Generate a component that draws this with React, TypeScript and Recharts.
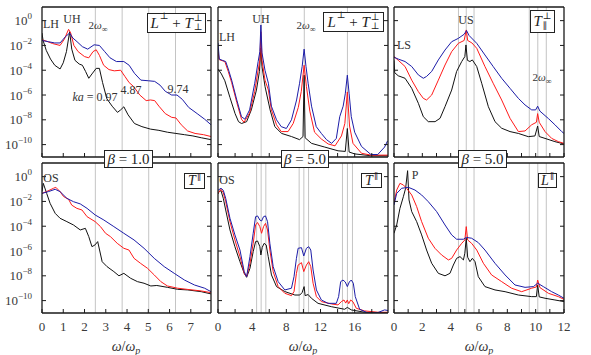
import React from "react";
import { LineChart, Line, XAxis, YAxis, ReferenceLine } from "recharts";

type Pt = [number, number]; // [omega / omega_p, log10 of the spectrum]

const serif = "Liberation Serif, DejaVu Serif, serif";

const yTicks = [-10, -8, -6, -4, -2, 0];
const ticksA = [0, 1, 2, 3, 4, 5, 6, 7];
const ticksB = [0, 2, 4, 6, 8, 10, 12, 14, 16, 18];
const ticksC = [0, 1, 2, 3, 4, 5, 6, 7, 8, 9, 10, 11, 12];

const marksA = [2.51, 3.77, 5.02, 6.28];
const marksTM = [5.05, 10.1, 15.15];
const marksBM = [4.52, 5.05, 5.6, 9.5, 10.05, 10.6, 14.57, 15.15, 15.74];
const marksC = [4.55, 5.1, 5.65, 9.55, 10.15, 10.75];

// top left: L perp + T perp, beta = 1
const tlBlack: Pt[] = [[0,-1.0],[0.05,-1.6],[0.2,-2.4],[0.4,-3.1],[0.6,-3.6],[0.85,-3.9],[1.0,-3.4],[1.15,-2.5],[1.3,-0.9],[1.4,-2.3],[1.55,-3.2],[1.75,-3.5],[1.9,-3.6],[2.05,-4.1],[2.2,-4.65],[2.35,-4.3],[2.55,-3.85],[2.7,-3.85],[2.85,-5.0],[3.05,-6.3],[3.3,-6.9],[3.55,-7.4],[3.7,-7.2],[3.85,-6.95],[4.05,-7.6],[4.35,-8.3],[4.7,-8.55],[5.1,-8.75],[5.5,-8.85],[5.9,-9.0],[6.3,-9.1],[6.7,-9.2],[7.1,-9.3],[7.5,-9.45],[7.95,-9.6]];
const tlRed: Pt[] = [[0,-1.55],[0.2,-1.65],[0.5,-1.85],[0.85,-2.0],[1.05,-1.5],[1.25,-0.7],[1.35,-1.0],[1.5,-2.0],[1.7,-2.5],[2.0,-2.9],[2.2,-3.0],[2.4,-2.5],[2.55,-2.35],[2.7,-2.8],[2.9,-3.6],[3.15,-3.95],[3.4,-4.05],[3.7,-4.0],[3.9,-4.5],[4.1,-5.0],[4.3,-5.3],[4.6,-6.0],[4.9,-6.45],[5.1,-6.4],[5.3,-6.45],[5.5,-6.9],[5.8,-7.5],[6.1,-7.8],[6.3,-7.85],[6.55,-8.4],[6.85,-8.9],[7.2,-9.1],[7.6,-9.2],[7.95,-9.35]];
const tlBlue: Pt[] = [[0,-1.6],[0.3,-1.7],[0.6,-1.8],[0.85,-1.8],[1.1,-1.3],[1.3,-1.0],[1.45,-1.4],[1.65,-1.7],[1.9,-2.1],[2.15,-2.3],[2.45,-1.95],[2.7,-2.0],[2.95,-2.5],[3.2,-3.0],[3.5,-3.3],[3.85,-3.3],[4.1,-3.6],[4.35,-4.25],[4.65,-4.8],[5.0,-4.85],[5.3,-4.9],[5.55,-5.2],[5.8,-5.7],[6.1,-6.0],[6.35,-6.0],[6.6,-6.35],[6.9,-7.0],[7.3,-7.5],[7.65,-7.95],[7.95,-8.4]];

// top middle: L perp + T perp, beta = 5
const tmBlack: Pt[] = [[0,-3.9],[0.4,-4.3],[0.8,-4.85],[1.4,-6.2],[2.0,-7.5],[2.4,-8.15],[2.75,-8.3],[3.35,-8.15],[3.9,-7.2],[4.5,-5.6],[4.85,-4.1],[5.02,-2.2],[5.15,-3.7],[5.5,-5.3],[6.1,-7.2],[6.65,-8.55],[7.45,-9.1],[8.6,-9.35],[9.55,-9.6],[9.95,-9.35],[10.08,-4.4],[10.2,-9.45],[10.95,-9.9],[12.5,-10.2],[14.05,-10.5],[14.9,-10.55],[15.14,-8.7],[15.35,-10.6],[16.0,-10.75],[17.9,-10.9],[19.9,-10.9]];
const tmRed: Pt[] = [[0,-2.5],[0.15,-3.15],[0.8,-3.3],[1.2,-4.1],[1.6,-5.0],[2.2,-6.6],[2.75,-7.95],[3.05,-8.2],[3.7,-7.45],[4.3,-5.7],[4.7,-4.0],[4.9,-3.2],[5.02,-0.9],[5.15,-3.2],[5.5,-4.8],[5.9,-5.6],[6.25,-7.2],[6.85,-8.4],[7.4,-8.95],[8.2,-8.95],[8.8,-8.3],[9.4,-7.0],[9.75,-5.7],[10.08,-3.6],[10.35,-5.3],[10.75,-7.3],[11.3,-9.0],[12.1,-9.55],[12.9,-9.95],[13.7,-10.1],[14.45,-9.3],[14.85,-8.3],[15.14,-5.75],[15.4,-8.5],[15.8,-9.9],[16.8,-10.7],[17.9,-10.85],[19.9,-10.85]];
const tmBlue: Pt[] = [[0,-1.8],[0.15,-3.1],[0.5,-3.2],[0.9,-3.3],[1.2,-3.9],[1.6,-4.8],[2.2,-6.4],[2.75,-7.75],[3.15,-7.95],[3.7,-7.2],[4.3,-5.05],[4.7,-3.3],[4.9,-2.5],[5.02,-0.35],[5.15,-2.6],[5.5,-4.0],[5.9,-5.05],[6.25,-6.9],[6.85,-8.0],[7.4,-8.55],[8.0,-8.7],[8.6,-8.0],[9.2,-6.4],[9.55,-5.05],[9.85,-3.7],[10.08,-2.3],[10.3,-3.7],[10.55,-5.05],[10.95,-6.9],[11.5,-8.55],[12.1,-9.1],[12.7,-9.6],[13.3,-9.9],[13.85,-9.5],[14.25,-7.75],[14.65,-6.9],[14.9,-5.9],[15.14,-4.4],[15.35,-5.9],[15.6,-7.75],[16.0,-9.0],[16.8,-10.15],[17.9,-10.8],[18.7,-10.8],[19.5,-10.2],[19.85,-9.7]];

// top right: T par perp, beta = 5
const trBlack: Pt[] = [[0,-3.2],[0.05,-4.2],[0.3,-4.45],[0.78,-4.65],[1.25,-5.46],[1.72,-6.67],[2.07,-7.75],[2.42,-8.15],[2.9,-8.15],[3.25,-7.88],[3.6,-6.94],[4.07,-5.6],[4.42,-4.1],[4.78,-3.3],[5.0,-2.9],[5.08,-1.96],[5.18,-3.2],[5.36,-3.3],[5.53,-3.17],[5.84,-3.7],[6.19,-5.05],[6.66,-6.94],[7.13,-8.15],[7.6,-8.68],[8.19,-8.95],[8.78,-9.1],[9.48,-9.36],[9.95,-9.3],[10.14,-8.5],[10.25,-9.35],[10.66,-9.5],[11.36,-9.76],[12,-9.95]];
const trRed: Pt[] = [[0,-2.9],[0.3,-3.2],[0.78,-3.7],[1.25,-4.8],[1.72,-5.73],[2.07,-6.27],[2.3,-6.4],[2.66,-6.0],[3.13,-4.8],[3.6,-3.58],[4.07,-2.5],[4.54,-1.83],[4.95,-1.6],[5.1,-0.75],[5.2,-1.6],[5.5,-1.8],[5.84,-2.23],[6.42,-3.7],[7.0,-5.05],[7.6,-6.4],[8.19,-7.88],[8.78,-8.95],[9.25,-8.9],[9.72,-8.4],[10.05,-8.2],[10.14,-7.5],[10.25,-8.2],[10.66,-8.95],[11.13,-9.5],[11.6,-9.76],[12,-9.9]];
const trBlue: Pt[] = [[0,-2.95],[0.3,-3.1],[0.78,-3.3],[1.25,-3.7],[1.72,-4.38],[2.07,-4.65],[2.3,-4.5],[2.66,-4.1],[3.13,-3.17],[3.6,-2.37],[4.07,-1.7],[4.54,-1.43],[4.95,-1.1],[5.12,-0.8],[5.3,-1.2],[5.84,-1.83],[6.42,-2.77],[7.0,-3.7],[7.6,-4.65],[8.19,-5.46],[8.78,-6.27],[9.25,-6.8],[9.72,-7.2],[10.0,-7.2],[10.14,-6.9],[10.3,-7.3],[10.9,-7.9],[11.36,-8.4],[11.84,-8.95],[12,-9.1]];

// bottom left: T par, beta = 1
const blBlack: Pt[] = [[0,-1.2],[0.06,-0.54],[0.22,-1.35],[0.38,-2.15],[0.62,-2.96],[0.85,-3.36],[1.17,-3.63],[1.48,-3.9],[1.8,-4.3],[2.04,-4.17],[2.2,-4.84],[2.35,-5.65],[2.5,-5.5],[2.62,-5.24],[2.83,-6.86],[3.06,-7.26],[3.38,-7.66],[3.62,-8.0],[3.85,-7.8],[4.17,-8.2],[4.49,-8.47],[4.8,-8.6],[5.12,-8.82],[5.4,-8.78],[5.9,-8.93],[6.38,-9.09],[6.86,-9.14],[7.49,-9.28],[7.95,-9.46]];
const blRed: Pt[] = [[0,-1.35],[0.22,-1.2],[0.54,-0.94],[0.65,-0.86],[0.85,-1.21],[1.01,-1.6],[1.25,-1.83],[1.4,-2.3],[1.64,-2.56],[1.88,-2.69],[2.12,-3.23],[2.5,-3.63],[2.75,-4.03],[2.99,-4.57],[3.22,-4.84],[3.54,-5.38],[3.85,-5.78],[4.09,-5.92],[4.33,-6.59],[4.64,-7.0],[4.96,-7.39],[5.28,-7.93],[5.59,-8.47],[5.9,-8.82],[6.38,-9.0],[6.86,-9.1],[7.49,-9.22],[7.95,-9.36]];
const blBlue: Pt[] = [[0,-1.35],[0.3,-1.21],[0.62,-1.02],[0.85,-1.21],[1.17,-1.75],[1.48,-2.02],[1.8,-2.2],[2.12,-2.56],[2.5,-3.09],[2.91,-3.5],[3.38,-4.03],[3.85,-4.57],[4.33,-5.11],[4.8,-5.78],[5.28,-6.59],[5.75,-7.26],[6.22,-7.8],[6.7,-8.34],[7.17,-8.74],[7.65,-9.0],[7.95,-9.28]];

// bottom middle: T par, beta = 5
const bmBlack: Pt[] = [[0,-1.4],[0.1,-1.21],[0.35,-1.13],[0.62,-1.75],[0.9,-2.69],[1.4,-4.3],[1.98,-5.65],[2.57,-6.86],[3.07,-7.8],[3.35,-8.12],[3.74,-7.4],[4.12,-6.05],[4.4,-5.24],[4.63,-5.19],[4.9,-5.65],[5.02,-6.32],[5.18,-5.7],[5.4,-5.38],[5.64,-5.51],[5.88,-6.45],[6.26,-7.93],[6.85,-8.87],[7.82,-9.27],[9.0,-9.55],[9.57,-9.55],[9.84,-9.36],[10.08,-8.87],[10.2,-9.6],[10.55,-9.51],[10.93,-9.81],[11.71,-10.22],[13.27,-10.49],[14.82,-10.7],[15.14,-10.55],[15.6,-10.75],[17.16,-10.94],[19.9,-10.97]];
const bmRed: Pt[] = [[0,-1.35],[0.35,-1.02],[0.62,-1.3],[0.9,-2.02],[1.4,-3.63],[1.98,-5.11],[2.57,-6.45],[3.07,-7.8],[3.35,-8.07],[3.74,-7.0],[4.12,-5.38],[4.4,-3.9],[4.63,-3.7],[4.9,-4.03],[5.1,-4.57],[5.33,-4.03],[5.56,-3.77],[5.8,-4.3],[6.07,-5.92],[6.46,-7.66],[7.04,-8.87],[7.82,-9.41],[8.6,-9.6],[8.9,-9.27],[9.18,-7.8],[9.38,-7.13],[9.77,-6.94],[10.04,-7.66],[10.35,-7.13],[10.62,-6.86],[10.86,-7.26],[11.13,-8.6],[11.52,-9.68],[12.1,-10.08],[13.27,-10.27],[14.05,-10.35],[14.44,-10.08],[14.75,-9.95],[14.95,-10.2],[15.14,-9.95],[15.3,-10.25],[15.53,-9.95],[15.8,-10.1],[16.19,-10.62],[17.16,-10.83],[18.7,-10.94],[19.9,-10.94]];
const bmBlue: Pt[] = [[0,-1.1],[0.35,-0.94],[0.62,-1.1],[0.9,-1.75],[1.4,-3.36],[1.98,-4.7],[2.57,-5.92],[3.07,-7.66],[3.35,-8.07],[3.74,-6.45],[4.12,-4.57],[4.4,-3.23],[4.63,-3.17],[4.9,-3.5],[5.1,-3.58],[5.33,-3.23],[5.56,-3.17],[5.8,-3.63],[6.07,-5.38],[6.46,-7.26],[7.04,-8.47],[7.82,-9.14],[8.6,-9.0],[8.9,-8.07],[9.18,-6.59],[9.38,-5.78],[9.77,-5.73],[10.04,-6.4],[10.35,-5.78],[10.62,-5.65],[10.86,-5.92],[11.13,-7.53],[11.52,-9.14],[12.1,-9.95],[12.88,-10.22],[13.85,-10.22],[14.12,-9.68],[14.36,-8.47],[14.63,-8.34],[14.9,-8.5],[15.14,-8.87],[15.37,-8.5],[15.6,-8.34],[15.84,-8.6],[16.07,-9.68],[16.58,-10.7],[17.55,-11.0],[18.7,-10.97],[19.5,-10.75],[19.9,-10.8]];

// bottom right: L par, beta = 5
const brBlack: Pt[] = [[0,-4.57],[0.19,-3.9],[0.42,-2.56],[0.66,-1.62],[0.82,-0.94],[0.96,0.48],[1.06,-1.88],[1.25,-2.82],[1.6,-3.63],[1.95,-4.7],[2.3,-5.92],[2.66,-6.99],[3.13,-7.8],[3.6,-8.0],[3.95,-7.8],[4.19,-7.13],[4.42,-6.59],[4.66,-6.45],[4.9,-6.72],[5.0,-6.18],[5.1,-4.97],[5.2,-6.5],[5.36,-6.86],[5.53,-6.59],[5.72,-6.86],[5.95,-8.07],[6.42,-8.87],[7.13,-9.14],[7.84,-9.28],[8.78,-9.55],[9.72,-9.68],[10.05,-9.68],[10.14,-8.74],[10.25,-9.7],[10.66,-9.81],[11.36,-9.95],[12,-10.08]];
const brRed: Pt[] = [[0,-2.15],[0.19,-1.08],[0.42,-0.54],[0.66,-0.67],[0.89,-0.94],[1.25,-1.48],[1.6,-2.42],[1.95,-3.63],[2.42,-4.97],[2.89,-5.78],[3.36,-6.32],[3.84,-6.72],[4.07,-6.59],[4.42,-5.92],[4.78,-5.38],[5.0,-5.11],[5.1,-4.03],[5.2,-5.11],[5.48,-5.38],[5.84,-5.92],[6.31,-6.99],[6.89,-7.93],[7.6,-8.47],[8.3,-9.0],[9.01,-9.28],[9.72,-9.0],[10.05,-8.9],[10.14,-8.34],[10.3,-8.95],[10.9,-9.41],[11.6,-9.68],[12,-9.9]];
const brBlue: Pt[] = [[0,-2.29],[0.19,-1.35],[0.54,-0.94],[1.01,-0.86],[1.48,-1.08],[1.95,-1.48],[2.42,-2.02],[3.01,-2.82],[3.6,-3.9],[4.07,-4.7],[4.42,-5.05],[4.9,-5.05],[5.1,-4.9],[5.48,-4.97],[5.95,-5.32],[6.42,-5.92],[7.13,-6.99],[7.84,-7.93],[8.54,-8.74],[9.25,-8.93],[9.84,-8.87],[10.14,-8.6],[10.54,-8.87],[11.13,-9.28],[11.6,-9.55],[12,-9.81]];

const rows = (pts: Pt[]) => pts.map(([w, e]) => ({ w, e }));

const frame = { stroke: "#1a1a1a", strokeWidth: 1.3 };
const tickLn = { stroke: "#1a1a1a", strokeWidth: 1 };

function PowTick(props: any) {
  const { x, y, payload } = props;
  const v = payload.value;
  return (
    <text x={x} y={y + 4.5} textAnchor="end" fill="#3a3a3a" fontSize={13} style={{ fontFamily: serif }}>
      10
      <tspan dy={-6} fontSize={9}>{v === 0 ? "0" : "\u2212" + Math.abs(v)}</tspan>
    </text>
  );
}

function XTick(props: any) {
  const { x, y, payload, show, step } = props;
  const v = payload.value;
  if (!show || v % step !== 0) return <g />;
  return (
    <text x={x} y={y + 9} textAnchor="middle" fill="#3a3a3a" fontSize={13} style={{ fontFamily: serif }}>
      {v}
    </text>
  );
}

function NoTick() {
  return <g />;
}

interface PanelProps {
  x: number;
  y: number;
  w: number;
  xMax: number;
  xTicks: number[];
  labelStep: number;
  showX: boolean;
  showY: boolean;
  marks: number[];
  black: Pt[];
  red: Pt[];
  blue: Pt[];
}

function Panel({ x, y, w, xMax, xTicks, labelStep, showX, showY, marks, black, red, blue }: PanelProps) {
  const h = 150;
  return (
    <div style={{ position: "absolute", left: x - 46, top: y - 3 }}>
      <LineChart width={46 + w + 14} height={3 + h + 22} margin={{ top: 2, right: 13, left: 0, bottom: 0 }}>
        <XAxis
          xAxisId="b"
          type="number"
          dataKey="w"
          domain={[0, xMax]}
          ticks={xTicks}
          interval={0}
          allowDataOverflow
          height={22}
          tickSize={-4}
          tickMargin={13}
          axisLine={frame}
          tickLine={tickLn}
          tick={<XTick show={showX} step={labelStep} />}
        />
        <XAxis
          xAxisId="t"
          orientation="top"
          type="number"
          domain={[0, xMax]}
          ticks={xTicks}
          interval={0}
          allowDataOverflow
          height={1}
          tickSize={-4}
          axisLine={frame}
          tickLine={tickLn}
          tick={NoTick}
        />
        <YAxis
          yAxisId="l"
          type="number"
          domain={[-11, 1.1]}
          ticks={yTicks}
          interval={0}
          allowDataOverflow
          width={46}
          tickSize={-4}
          tickMargin={14}
          axisLine={frame}
          tickLine={tickLn}
          tick={showY ? PowTick : NoTick}
        />
        <YAxis
          yAxisId="r"
          orientation="right"
          type="number"
          domain={[-11, 1.1]}
          ticks={yTicks}
          interval={0}
          allowDataOverflow
          width={1}
          tickSize={-4}
          axisLine={frame}
          tickLine={tickLn}
          tick={NoTick}
        />
        {marks.map((m) => (
          <ReferenceLine key={m} xAxisId="b" yAxisId="l" x={m} stroke="#c4c4c4" strokeWidth={1} />
        ))}
        <Line xAxisId="b" yAxisId="l" data={rows(black)} dataKey="e" type="linear" stroke="#111" strokeWidth={1} dot={false} isAnimationActive={false} />
        <Line xAxisId="b" yAxisId="l" data={rows(red)} dataKey="e" type="linear" stroke="#ff1a1a" strokeWidth={1} dot={false} isAnimationActive={false} />
        <Line xAxisId="b" yAxisId="l" data={rows(blue)} dataKey="e" type="linear" stroke="#1c1ca8" strokeWidth={1} dot={false} isAnimationActive={false} />
      </LineChart>
    </div>
  );
}

function Note({ cx, cy, size = 12, children }: { cx: number; cy: number; size?: number; children: React.ReactNode }) {
  return (
    <div
      style={{
        position: "absolute",
        left: cx,
        top: cy,
        transform: "translate(-50%, -50%)",
        fontFamily: serif,
        fontSize: size,
        color: "#333",
        whiteSpace: "nowrap",
        lineHeight: 1,
      }}
    >
      {children}
    </div>
  );
}

function Box({ x, y, w, h, size = 15, children }: { x: number; y: number; w: number; h: number; size?: number; children: React.ReactNode }) {
  return (
    <div
      style={{
        position: "absolute",
        left: x,
        top: y,
        width: w,
        height: h,
        boxSizing: "border-box",
        border: "1px solid #222",
        background: "#fff",
        display: "flex",
        alignItems: "center",
        justifyContent: "center",
        fontFamily: serif,
        fontSize: size,
        color: "#222",
        whiteSpace: "nowrap",
        lineHeight: 1,
      }}
    >
      {children}
    </div>
  );
}

function Scripts({ sup, sub }: { sup: string; sub: string }) {
  return (
    <span style={{ display: "inline-flex", flexDirection: "column", fontSize: "0.62em", lineHeight: 1, marginLeft: 1 }}>
      <span style={{ marginTop: -4 }}>{sup}</span>
      <span style={{ marginBottom: -4 }}>{sub}</span>
    </span>
  );
}

const Sup = ({ c, lift = 6 }: { c: string; lift?: number }) => (
  <span style={{ fontSize: "0.62em", position: "relative", top: -lift, marginLeft: 1 }}>{c}</span>
);

const TwoOmega = () => (
  <span>
    2<i>ω</i>
    <span style={{ fontSize: "0.75em", position: "relative", top: 3 }}>∞</span>
  </span>
);

const Omega = () => (
  <span>
    <i>ω</i>/<i>ω</i>
    <span style={{ fontSize: "0.72em", position: "relative", top: 3, fontStyle: "italic" }}>p</span>
  </span>
);

export default function App() {
  return (
    <div style={{ position: "absolute", left: 0, top: 0, width: 591, height: 355, background: "#fff", overflow: "hidden" }}>
      <Panel x={42} y={7} w={169} xMax={7.95} xTicks={ticksA} labelStep={1} showX={false} showY marks={marksA} black={tlBlack} red={tlRed} blue={tlBlue} />
      <Panel x={218} y={7} w={170} xMax={19.9} xTicks={ticksB} labelStep={4} showX={false} showY={false} marks={marksTM} black={tmBlack} red={tmRed} blue={tmBlue} />
      <Panel x={394} y={7} w={170} xMax={12} xTicks={ticksC} labelStep={2} showX={false} showY={false} marks={marksC} black={trBlack} red={trRed} blue={trBlue} />
      <Panel x={42} y={163} w={169} xMax={7.95} xTicks={ticksA} labelStep={1} showX showY marks={marksA} black={blBlack} red={blRed} blue={blBlue} />
      <Panel x={218} y={163} w={170} xMax={19.9} xTicks={ticksB} labelStep={4} showX showY={false} marks={marksBM} black={bmBlack} red={bmRed} blue={bmBlue} />
      <Panel x={394} y={163} w={170} xMax={12} xTicks={ticksC} labelStep={2} showX showY={false} marks={marksC} black={brBlack} red={brRed} blue={brBlue} />

      <Note cx={51} cy={24}>LH</Note>
      <Note cx={72} cy={19}>UH</Note>
      <Note cx={98} cy={26} size={11}><TwoOmega /></Note>
      <Note cx={95} cy={97}><i>ka</i> = 0.97</Note>
      <Note cx={131} cy={90}>4.87</Note>
      <Note cx={178} cy={89}>9.74</Note>

      <Note cx={227} cy={37}>LH</Note>
      <Note cx={261} cy={19}>UH</Note>
      <Note cx={306} cy={26} size={11}><TwoOmega /></Note>

      <Note cx={404} cy={45}>LS</Note>
      <Note cx={466} cy={20}>US</Note>
      <Note cx={542} cy={78} size={11}><TwoOmega /></Note>

      <Note cx={51} cy={178}>OS</Note>
      <Note cx={227} cy={180}>OS</Note>
      <Note cx={415} cy={175}>P</Note>

      <Box x={147} y={13} w={59} h={20}>
        <i>L</i><Sup c="⊥" />&nbsp;+&nbsp;<i>T</i><Scripts sup="⊥" sub="⊥" />
      </Box>
      <Box x={323} y={12} w={61} h={20}>
        <i>L</i><Sup c="⊥" />&nbsp;+&nbsp;<i>T</i><Scripts sup="⊥" sub="⊥" />
      </Box>
      <Box x={530} y={10} w={25} h={23}>
        <i>T</i><Scripts sup="⊥" sub="∥" />
      </Box>
      <Box x={184} y={173} w={21} h={16} size={14}>
        <i>T</i><Sup c="∥" lift={4} />
      </Box>
      <Box x={361} y={173} w={21} h={15} size={14}>
        <i>T</i><Sup c="∥" lift={4} />
      </Box>
      <Box x={538} y={173} w={19} h={15} size={14}>
        <i>L</i><Sup c="∥" lift={4} />
      </Box>

      <Box x={104} y={150} w={49} h={18}><i>β</i>&nbsp;= 1.0</Box>
      <Box x={281} y={150} w={48} h={18}><i>β</i>&nbsp;= 5.0</Box>
      <Box x={458} y={150} w={49} h={18}><i>β</i>&nbsp;= 5.0</Box>

      <Note cx={126} cy={347} size={14}><Omega /></Note>
      <Note cx={303} cy={347} size={14}><Omega /></Note>
      <Note cx={479} cy={347} size={14}><Omega /></Note>
    </div>
  );
}
